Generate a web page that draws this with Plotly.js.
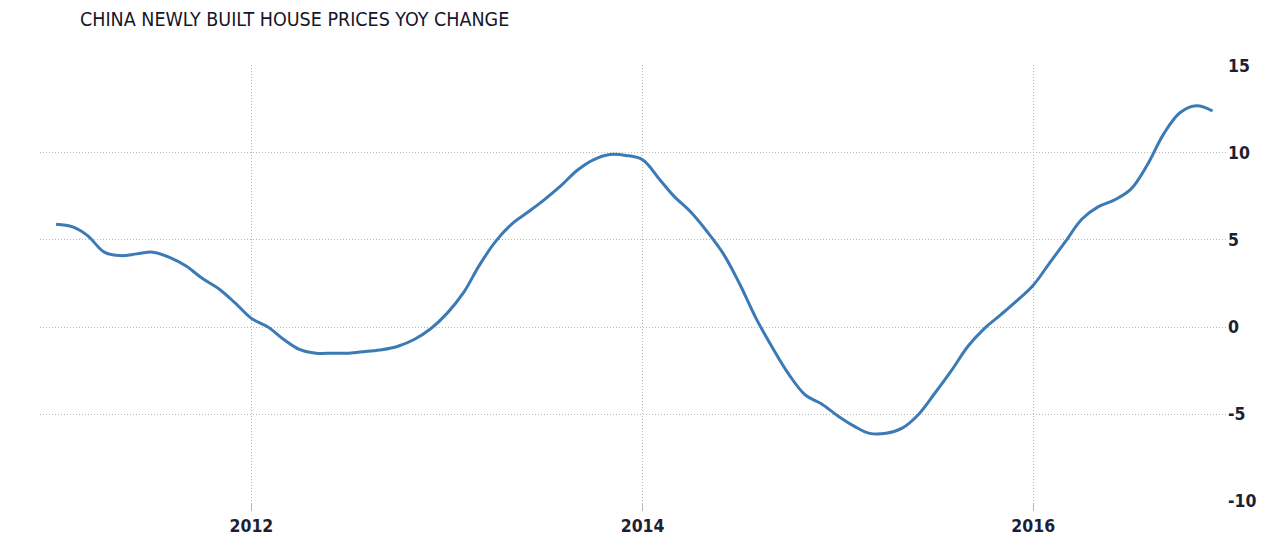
<!DOCTYPE html>
<html>
<head>
<meta charset="utf-8">
<script src="https://cdn.plot.ly/plotly-3.0.1.min.js"></script>
<style>html,body{margin:0;padding:0;background:#fff;}#chart{width:1280px;height:545px;}</style>
</head>
<body>
<div id="chart"></div>
<script>
const months = [];
for (let y = 2011; y <= 2016; y++) {
  for (let m = 1; m <= 12; m++) months.push(y + '-' + String(m).padStart(2, '0') + '-01');
}
const values2011 = [5.9, 5.75, 5.25, 4.3, 4.1, 4.2, 4.3, 4.0, 3.5, 2.8, 2.2, 1.4];
const values2012 = [0.5, 0.0, -0.7, -1.3, -1.5, -1.5, -1.5, -1.4, -1.3, -1.1, -0.7, -0.1];
const values2013 = [0.8, 2.0, 3.5, 4.9, 5.9, 6.6, 7.3, 8.1, 9.0, 9.6, 9.9, 9.85];
const values2014 = [9.6, 8.5, 7.5, 6.6, 5.5, 4.2, 2.5, 0.5, -1.2, -2.7, -3.9, -4.4];
const values2015 = [-5.1, -5.7, -6.1, -6.1, -5.8, -5.0, -3.8, -2.5, -1.1, -0.1, 0.7, 1.5];
const values2016 = [2.4, 3.7, 4.9, 6.2, 6.9, 7.3, 7.9, 9.3, 11.1, 12.3, 12.7, 12.4];
const values = [].concat(values2011, values2012, values2013, values2014, values2015, values2016);
const xTickVals = ['2012-01-01', '2014-01-01', '2016-01-01'];
const xTickText = ['2012', '2014', '2016'];
const yTickVals = [-10, -5, 0, 5, 10, 15];
const yTickText = ['-10', '-5', '0', '5', '10', '15'];

const trace = {
  x: months, y: values, type: 'scatter', mode: 'lines',
  line: {color: '#3c7ab6', width: 3, shape: 'spline', smoothing: 1},
  hoverinfo: 'x+y'
};
const tickFont = {family: 'DejaVu Sans Condensed, sans-serif', size: 17.5, weight: 'bold', color: '#1e1e34'};
const gridCol = '#b8b8b8';
const layout = {
  width: 1280, height: 545,
  margin: {l: 40, r: 53, t: 65, b: 43, pad: 0},
  paper_bgcolor: '#fff', plot_bgcolor: '#fff',
  showlegend: false,
  title: {
    text: 'CHINA NEWLY BUILT HOUSE PRICES YOY CHANGE',
    font: {family: 'DejaVu Sans Condensed, DejaVu Sans, sans-serif', size: 19.5, color: '#161628'},
    x: 80/1280, xref: 'container', xanchor: 'left',
    y: 1 - 19/545, yref: 'container', yanchor: 'middle'
  },
  xaxis: {
    type: 'date', range: ['2010-12-02', '2016-12-28'],
    tickmode: 'array', tickvals: xTickVals, ticktext: xTickText,
    showgrid: true, gridcolor: gridCol, griddash: '1px,2px', gridwidth: 1,
    ticks: 'outside', ticklen: 8, tickcolor: gridCol, tickwidth: 1,
    showline: false, zeroline: false,
    tickfont: tickFont
  },
  yaxis: {
    side: 'right', range: [-10.04, 15.04],
    tickmode: 'array', tickvals: yTickVals, ticktext: yTickText,
    showgrid: true, gridcolor: gridCol, griddash: '1px,2px', gridwidth: 1,
    zeroline: false, showline: false, ticks: '',
    tickfont: tickFont
  }
};
Plotly.newPlot('chart', [trace], layout, {displayModeBar: false, staticPlot: true});
</script>
</body>
</html>
